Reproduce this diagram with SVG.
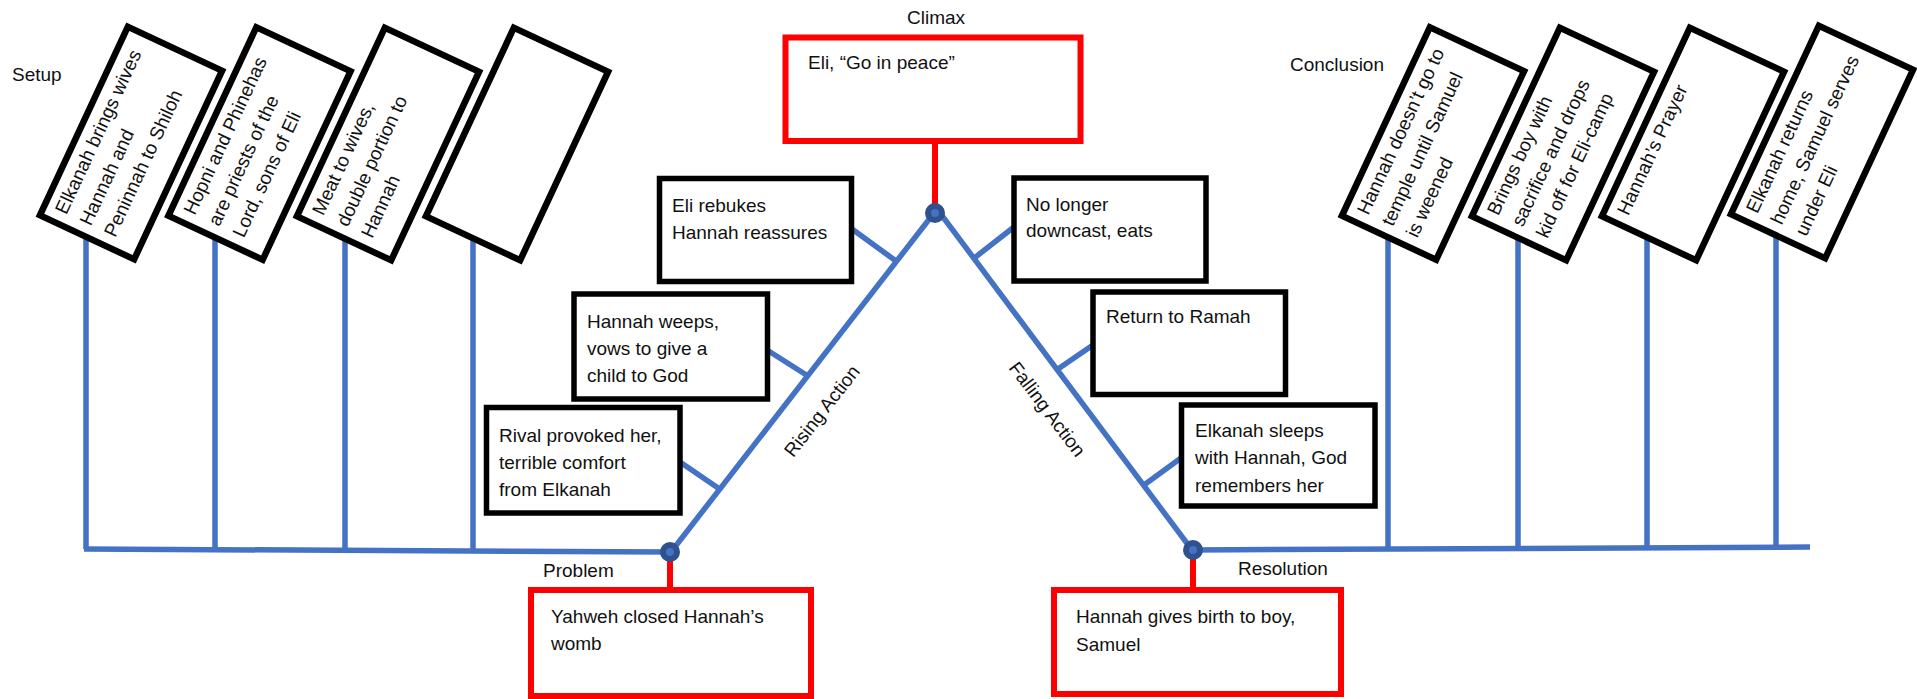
<svg xmlns="http://www.w3.org/2000/svg" width="1917" height="699" viewBox="0 0 1917 699">
<style>
text{font-family:"Liberation Sans",Arial,sans-serif;font-size:19px;fill:#111}
.bl{stroke:#4472C4;stroke-width:5.5;fill:none;stroke-linecap:butt}
.rd{stroke:#FF0000;stroke-width:6;fill:none}
.bx{fill:#fff;stroke:#000;stroke-width:5.5}
.tb{fill:#fff;stroke:#000;stroke-width:6.5}
.rbx{fill:#fff;stroke:#FF0000;stroke-width:6}
.nd{fill:#4472C4;stroke:#2F528F;stroke-width:6}
</style>
<rect width="1917" height="699" fill="#fff"/>
<g id="connectors">
<path class="bl" d="M84 549 L670 552"/>
<path class="bl" d="M86 200 V549 M215 200 V550 M345 200 V550 M473 200 V551"/>
<path class="bl" d="M1192 550 L1810 547"/>
<path class="bl" d="M1388 200 V549 M1518 200 V548 M1647 200 V548 M1776 200 V547"/>
<path class="bl" d="M671 552 L934 213"/>
<path class="bl" d="M940 213 L1192 550"/>
<path class="bl" d="M852 229 L896 261 M767 350 L808 376 M680 462 L721 490"/>
<path class="bl" d="M1014 227 L973 259 M1093 345 L1058 369 M1181 458 L1144 485"/>
<path class="rd" d="M935 141 V213 M670 552 V590 M1193 550 V590"/>
</g>
<g id="points">
<circle class="nd" cx="935" cy="213" r="7"/>
<circle class="nd" cx="670" cy="552" r="7"/>
<circle class="nd" cx="1193" cy="550" r="7"/>
</g>
<g id="labels">
<text x="12" y="81">Setup</text>
<text x="1290" y="71">Conclusion</text>
<text x="907" y="24">Climax</text>
<text x="543" y="577">Problem</text>
<text x="1238" y="575">Resolution</text>
<text transform="translate(827 415) rotate(-52)" text-anchor="middle">Rising Action</text>
<text transform="translate(1042 413) rotate(53)" text-anchor="middle">Falling Action</text>
</g>
<g id="setup1" transform="translate(131 143) rotate(-65)">
<rect class="tb" x="-104" y="-52" width="208" height="104"/>
<text x="-93" y="-28">Elkanah brings wives</text>
<text x="-93" y="-1">Hannah and</text>
<text x="-93" y="26">Peninnah to Shiloh</text>
</g>
<g id="setup2" transform="translate(259.5 143.5) rotate(-65)">
<rect class="tb" x="-104" y="-52" width="208" height="104"/>
<text x="-93" y="-28">Hopni and Phinehas</text>
<text x="-93" y="-1">are priests of the</text>
<text x="-93" y="26">Lord, sons of Eli</text>
</g>
<g id="setup3" transform="translate(388 144) rotate(-65)">
<rect class="tb" x="-104" y="-52" width="208" height="104"/>
<text x="-93" y="-28">Meat to wives,</text>
<text x="-93" y="-1">double portion to</text>
<text x="-93" y="26">Hannah</text>
</g>
<g id="setup4" transform="translate(517 144) rotate(-65)">
<rect class="tb" x="-104" y="-52" width="208" height="104"/>
</g>
<g id="conclusion1" transform="translate(1433 143.5) rotate(-65)">
<rect class="tb" x="-104" y="-52" width="208" height="104"/>
<text x="-93" y="-28">Hannah doesn’t go to</text>
<text x="-93" y="-1">temple until Samuel</text>
<text x="-93" y="26">is weened</text>
</g>
<g id="conclusion2" transform="translate(1563 144) rotate(-65)">
<rect class="tb" x="-104" y="-52" width="208" height="104"/>
<text x="-93" y="-28">Brings boy with</text>
<text x="-93" y="-1">sacrifice and drops</text>
<text x="-93" y="26">kid off for Eli-camp</text>
</g>
<g id="conclusion3" transform="translate(1693 144) rotate(-65)">
<rect class="tb" x="-104" y="-52" width="208" height="104"/>
<text x="-93" y="-28">Hannah’s Prayer</text>
</g>
<g id="conclusion4" transform="translate(1822 142) rotate(-65)">
<rect class="tb" x="-104" y="-52" width="208" height="104"/>
<text x="-93" y="-28">Elkanah returns</text>
<text x="-93" y="-1">home, Samuel serves</text>
<text x="-93" y="26">under Eli</text>
</g>
<g id="climax">
<rect class="rbx" x="785.5" y="37.5" width="295" height="103.5"/>
<text x="808" y="69">Eli, “Go in peace”</text>
</g>
<g id="problem">
<rect class="rbx" x="531" y="590" width="280" height="106"/>
<text x="551" y="623">Yahweh closed Hannah’s</text>
<text x="551" y="650">womb</text>
</g>
<g id="resolution">
<rect class="rbx" x="1054" y="590" width="287" height="104"/>
<text x="1076" y="623">Hannah gives birth to boy,</text>
<text x="1076" y="651">Samuel</text>
</g>
<g id="rising1">
<rect class="bx" x="486.5" y="407.5" width="193.5" height="105.5"/>
<text x="499" y="442">Rival provoked her,</text>
<text x="499" y="469">terrible comfort</text>
<text x="499" y="496">from Elkanah</text>
</g>
<g id="rising2">
<rect class="bx" x="574" y="294" width="193.5" height="105"/>
<text x="587" y="328">Hannah weeps,</text>
<text x="587" y="355">vows to give a</text>
<text x="587" y="382">child to God</text>
</g>
<g id="rising3">
<rect class="bx" x="659.5" y="178.5" width="192" height="103"/>
<text x="672" y="212">Eli rebukes</text>
<text x="672" y="239">Hannah reassures</text>
</g>
<g id="falling1">
<rect class="bx" x="1014" y="178" width="192" height="103"/>
<text x="1026" y="211">No longer</text>
<text x="1026" y="237">downcast, eats</text>
</g>
<g id="falling2">
<rect class="bx" x="1093" y="292" width="192.5" height="102.5"/>
<text x="1106" y="323">Return to Ramah</text>
</g>
<g id="falling3">
<rect class="bx" x="1181.5" y="405" width="193.5" height="101"/>
<text x="1195" y="437">Elkanah sleeps</text>
<text x="1195" y="464">with Hannah, God</text>
<text x="1195" y="492">remembers her</text>
</g>
</svg>
